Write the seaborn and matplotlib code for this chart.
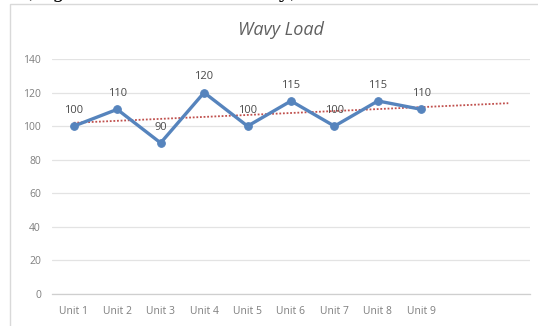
import numpy as np
import pandas as pd
import matplotlib
matplotlib.use("Agg")
import matplotlib.pyplot as plt
import seaborn as sns
from matplotlib.patches import Rectangle

# Load per unit
units = ["Unit 1", "Unit 2", "Unit 3", "Unit 4", "Unit 5",
         "Unit 6", "Unit 7", "Unit 8", "Unit 9"]
loads = [100, 110, 90, 120, 100, 115, 100, 115, 110]
y_ticks = [0, 20, 40, 60, 80, 100, 120, 140]
n_slots = 11  # category axis keeps two empty slots after the last unit
title = "Wavy Load"
caption = "(Figure 1 Load Curve Only)"

sns.set_theme(style="white")
plt.rcParams["font.family"] = ["Open Sans", "DejaVu Sans"]

fig = plt.figure(figsize=(5.38, 3.26), dpi=100)
fig.patch.set_facecolor("white")

# chart frame
fig.patches.append(Rectangle((10 / 538, -0.01), 1.0, 1 - 4 / 326 + 0.01,
                             transform=fig.transFigure, fill=False,
                             edgecolor="#d9d9d9", linewidth=1.0))
# caption line above the chart, cut by the image edge
fig.text(25 / 538, 1 + 2 / 326, caption, ha="left", va="baseline",
         fontsize=14, family="DejaVu Serif", color="black")

ax = fig.add_axes([52 / 538, 32 / 326, 478 / 538, 235 / 326])

df = pd.DataFrame({"pos": np.arange(1, len(units) + 1), "load": loads})
blue = "#5684bd"
sns.lineplot(data=df, x="pos", y="load", ax=ax, color=blue, linewidth=2.4,
             marker="o", markersize=5.5, markeredgecolor=blue, zorder=3)

# linear trend extended across the empty slots
coef = np.polyfit(df["pos"], df["load"], 1)
tx = np.array([1, n_slots])
ax.plot(tx, np.polyval(coef, tx), linestyle=(0, (1, 1)), color="#c0504d",
        linewidth=1.3, zorder=2)

for x, v in zip(df["pos"], df["load"]):
    ax.annotate(str(v), (x, v), xytext=(0, 7.5), textcoords="offset points",
                ha="center", va="bottom", fontsize=8, color="#4a4a4a")

ax.set_xlim(0.5, n_slots + 0.5)
ax.set_ylim(0, 140)
ax.set_xticks(np.arange(1, n_slots + 1))
ax.set_xticklabels(units + [""] * (n_slots - len(units)))
ax.set_yticks(y_ticks)
ax.set_yticklabels([str(t) for t in y_ticks])
ax.set_xlabel("")
ax.set_ylabel("")
ax.tick_params(axis="both", length=0, labelsize=7.5, labelcolor="#7f7f7f")
ax.tick_params(axis="x", pad=9)
ax.tick_params(axis="y", pad=8)
ax.grid(axis="y", color="#e3e3e3", linewidth=0.9)
ax.grid(axis="x", visible=False)
ax.set_axisbelow(True)
for s in ["top", "right", "left"]:
    ax.spines[s].set_visible(False)
ax.spines["bottom"].set_color("#cfcfcf")
ax.spines["bottom"].set_linewidth(0.9)

fig.text(281 / 538, 1 - 30 / 326, title, ha="center", va="center",
         fontsize=13, style="italic", color="#606060")

fig.savefig("out.png", dpi=100)
